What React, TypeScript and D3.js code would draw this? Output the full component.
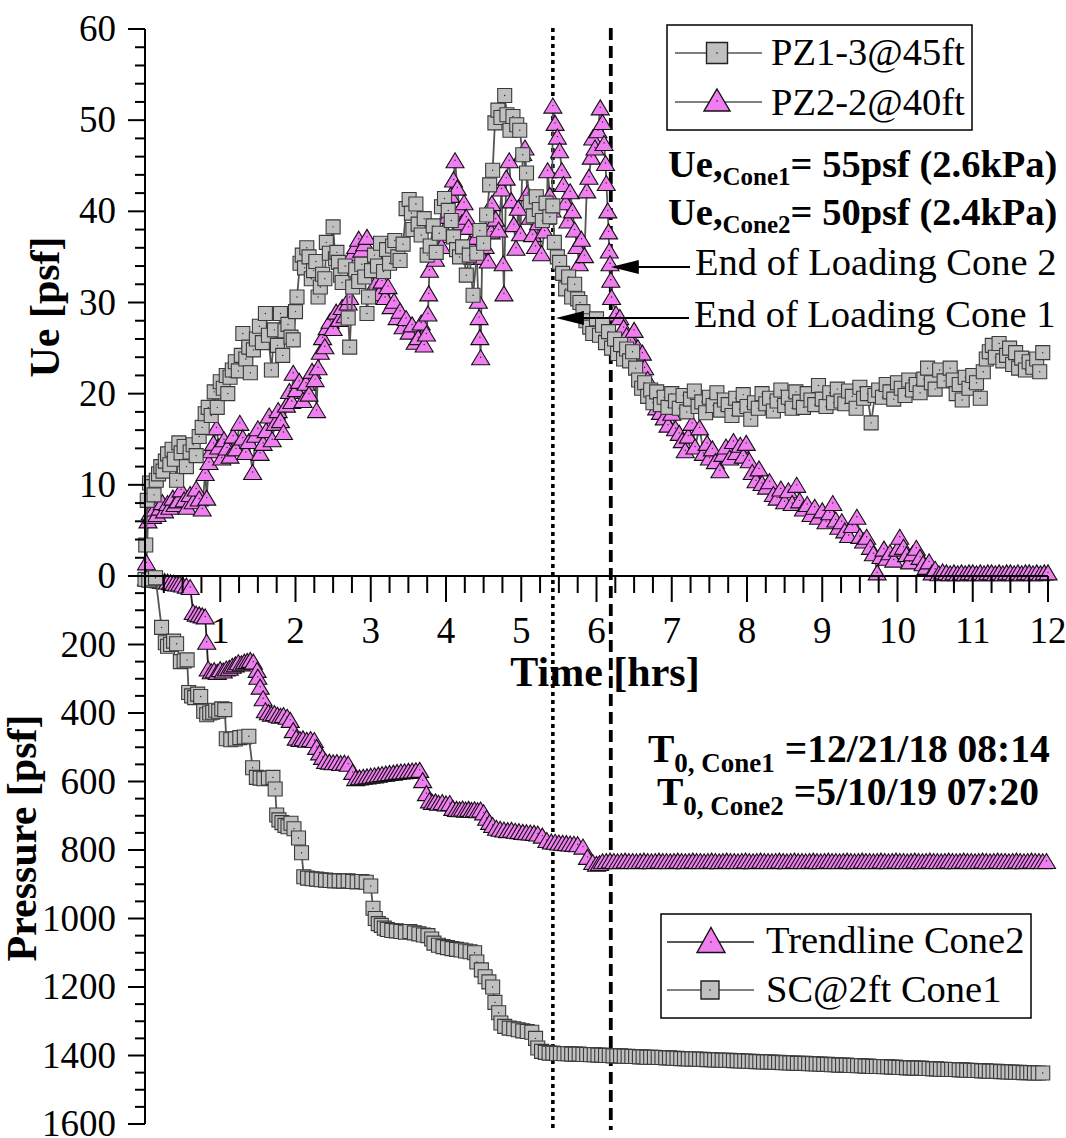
import React from 'react';
import * as d3 from 'd3';

// ---------- DATA ----------
// Top panel: excess pore pressure Ue [psf] vs time [hrs]
const pz13Series: [number, number][] = [
  [0.01,3.4],[0.03,8.3],[0.06,10.2],[0.09,9.8],[0.12,8.9],[0.15,10.5],[0.18,11.2],[0.21,12.0],[0.24,11.5],[0.27,12.6],
  [0.30,13.4],[0.33,12.2],[0.36,13.9],[0.39,12.8],[0.42,10.5],[0.45,14.6],[0.48,13.5],[0.52,14.2],[0.55,12.0],[0.60,13.6],
  [0.64,14.4],[0.68,13.2],[0.72,15.3],[0.76,16.3],[0.80,17.8],[0.84,18.5],[0.88,17.6],[0.92,20.2],[0.96,18.5],[1.00,21.3],
  [1.04,20.6],[1.08,22.0],[1.10,20.0],[1.13,21.8],[1.16,22.6],[1.20,23.5],[1.24,22.5],[1.28,24.2],[1.30,26.6],[1.34,23.8],
  [1.38,25.1],[1.40,22.3],[1.44,24.8],[1.48,26.0],[1.52,27.4],[1.56,25.6],[1.60,28.8],[1.64,26.4],[1.68,22.6],[1.72,27.0],
  [1.76,25.3],[1.80,28.8],[1.83,24.2],[1.86,26.9],[1.90,27.6],[1.94,26.2],[1.97,25.9],[2.00,29.0],[2.02,30.6],[2.06,34.3],
  [2.09,35.2],[2.12,33.8],[2.15,36.0],[2.18,35.0],[2.21,32.6],[2.24,33.5],[2.27,34.5],[2.30,30.6],[2.33,31.7],[2.36,33.1],
  [2.39,32.6],[2.41,36.6],[2.45,35.4],[2.50,38.3],[2.53,34.8],[2.55,35.5],[2.57,34.4],[2.60,33.0],[2.62,32.2],[2.66,34.0],
  [2.70,28.3],[2.72,25.1],[2.76,31.7],[2.80,33.6],[2.84,32.3],[2.88,34.2],[2.92,32.8],[2.95,28.8],[2.97,30.6],[3.01,33.5],
  [3.05,35.2],[3.09,34.0],[3.13,36.5],[3.17,33.4],[3.21,35.8],[3.25,34.3],[3.29,36.2],[3.32,36.8],[3.36,35.0],[3.39,34.6],
  [3.43,36.4],[3.47,40.3],[3.51,41.3],[3.54,39.8],[3.56,38.0],[3.60,40.8],[3.63,38.6],[3.67,37.4],[3.71,39.2],[3.75,35.2],
  [3.79,36.2],[3.83,38.4],[3.87,35.5],[3.91,37.6],[3.94,40.5],[3.98,41.4],[4.03,40.1],[4.07,39.0],[4.10,37.2],[4.14,35.8],
  [4.18,35.0],[4.22,36.1],[4.27,33.0],[4.31,35.2],[4.36,30.8],[4.41,35.4],[4.45,37.9],[4.50,36.5],[4.54,39.6],[4.58,42.9],
  [4.62,44.5],[4.65,49.7],[4.69,51.1],[4.73,50.3],[4.78,52.7],[4.81,50.6],[4.85,48.9],[4.89,50.4],[4.94,49.5],[4.98,48.9],
  [5.02,46.2],[5.07,44.2],[5.12,41.0],[5.16,39.5],[5.20,41.6],[5.24,40.2],[5.28,39.0],[5.33,40.9],[5.38,39.4],[5.42,40.6],
  [5.44,36.6],[5.48,35.0],[5.51,34.4],[5.55,33.2],[5.59,31.5],[5.63,32.8],[5.67,30.6],[5.71,32.0],[5.75,30.4],[5.78,30.0],
  [5.82,29.0],[5.86,28.0],[5.91,27.3],[5.95,26.6],[6.00,28.2],[6.04,26.4],[6.08,27.5],[6.12,25.6],[6.16,26.8],[6.20,25.0],
  [6.24,26.0],[6.28,24.4],[6.32,25.4],[6.36,23.8],[6.40,24.9],[6.44,23.6],[6.48,24.6],[6.52,22.8],[6.56,21.5],[6.60,20.6],
  [6.64,21.2],[6.68,19.7],[6.72,20.4],[6.75,19.0],[6.80,20.2],[6.85,18.8],[6.90,19.6],[6.95,18.5],[7.00,20.0],[7.05,19.2],
  [7.10,18.4],[7.15,19.8],[7.20,18.0],[7.25,19.4],[7.30,20.3],[7.35,18.6],[7.40,19.1],[7.45,17.9],[7.50,19.6],[7.55,18.7],
  [7.60,20.1],[7.65,18.2],[7.70,19.3],[7.75,18.8],[7.80,17.6],[7.85,19.5],[7.90,18.3],[7.95,19.9],[8.00,18.6],[8.05,17.2],
  [8.10,19.0],[8.15,18.4],[8.20,20.0],[8.25,18.9],[8.30,19.5],[8.35,18.1],[8.40,19.2],[8.45,20.4],[8.50,18.7],[8.55,19.6],
  [8.60,18.4],[8.65,20.2],[8.70,19.1],[8.75,18.5],[8.80,20.0],[8.85,19.3],[8.90,18.8],[8.95,20.9],[9.00,19.4],[9.05,18.6],
  [9.10,20.1],[9.15,19.0],[9.20,20.5],[9.25,19.2],[9.30,18.9],[9.35,20.3],[9.40,19.7],[9.45,18.4],[9.50,20.7],[9.55,19.5],
  [9.60,20.0],[9.65,16.8],[9.70,19.8],[9.75,20.4],[9.80,19.6],[9.85,21.0],[9.90,20.2],[9.95,19.4],[10.00,21.2],[10.05,20.6],
  [10.10,19.8],[10.15,21.5],[10.20,20.4],[10.25,21.0],[10.30,20.1],[10.35,21.6],[10.40,22.8],[10.45,21.2],[10.50,20.5],[10.56,22.6],
  [10.62,21.4],[10.70,22.8],[10.74,21.5],[10.78,20.0],[10.82,21.0],[10.86,19.3],[10.90,21.8],[10.95,20.6],[11.00,22.0],[11.05,21.2],
  [11.10,19.5],[11.14,22.4],[11.18,23.8],[11.22,24.6],[11.26,25.3],[11.30,24.0],[11.35,25.5],[11.40,23.6],[11.45,24.2],[11.49,25.0],
  [11.53,23.2],[11.57,24.5],[11.61,22.8],[11.65,23.9],[11.70,22.6],[11.75,23.5],[11.80,22.9],[11.85,23.8],[11.89,22.4],[11.93,24.5],
];

const pz22Series: [number, number][] = [
  [0.02,1.5],[0.04,6.1],[0.07,7.0],[0.10,6.6],[0.13,7.4],[0.16,6.8],[0.20,7.5],[0.23,8.1],[0.26,7.2],[0.30,8.0],
  [0.33,7.6],[0.37,8.6],[0.40,7.9],[0.44,8.3],[0.48,9.5],[0.52,8.4],[0.56,7.6],[0.60,9.0],[0.64,8.2],[0.68,9.6],
  [0.72,8.5],[0.76,7.4],[0.80,11.3],[0.82,8.6],[0.85,12.5],[0.88,13.8],[0.91,14.6],[0.95,16.3],[0.98,14.2],[1.02,13.0],
  [1.05,15.0],[1.09,14.1],[1.13,13.2],[1.17,15.4],[1.21,14.0],[1.26,16.8],[1.30,15.2],[1.34,13.6],[1.38,14.8],[1.43,11.4],
  [1.47,15.5],[1.50,16.2],[1.53,13.5],[1.57,14.6],[1.61,16.0],[1.65,17.6],[1.69,15.0],[1.73,16.8],[1.77,18.2],[1.80,17.1],
  [1.84,15.8],[1.88,18.8],[1.92,20.3],[1.95,19.2],[1.97,22.3],[2.01,20.5],[2.05,21.4],[2.10,19.3],[2.14,21.2],[2.18,20.0],
  [2.22,22.5],[2.26,21.6],[2.28,18.2],[2.30,22.9],[2.33,24.6],[2.36,26.2],[2.39,25.2],[2.42,27.3],[2.46,28.0],[2.50,27.2],
  [2.54,29.0],[2.58,28.2],[2.62,29.5],[2.66,28.6],[2.70,30.0],[2.72,30.6],[2.76,35.4],[2.80,36.2],[2.84,37.0],[2.88,35.8],
  [2.92,36.5],[2.95,37.2],[2.99,34.0],[3.03,33.5],[3.07,32.2],[3.11,31.0],[3.15,32.4],[3.19,30.6],[3.23,31.8],[3.27,29.6],
  [3.31,30.2],[3.35,28.4],[3.39,29.1],[3.43,27.4],[3.47,28.3],[3.51,26.8],[3.55,27.6],[3.59,25.7],[3.63,26.2],[3.67,27.8],
  [3.71,25.4],[3.74,26.6],[3.76,28.8],[3.77,31.0],[3.78,33.6],[3.82,36.0],[3.86,34.8],[3.90,37.4],[3.94,36.2],[3.98,38.0],
  [4.02,39.5],[4.06,41.8],[4.10,43.5],[4.12,45.6],[4.15,42.6],[4.18,40.2],[4.21,38.8],[4.24,41.0],[4.27,39.4],[4.30,38.3],
  [4.32,36.5],[4.36,35.0],[4.40,37.2],[4.43,30.2],[4.44,28.4],[4.45,26.2],[4.46,24.0],[4.48,35.0],[4.52,36.2],[4.56,34.6],
  [4.60,37.8],[4.61,40.9],[4.66,39.2],[4.70,38.0],[4.74,42.5],[4.76,34.3],[4.77,31.0],[4.80,43.7],[4.84,45.6],[4.87,41.2],
  [4.90,38.6],[4.93,36.0],[4.96,40.4],[4.99,37.6],[5.02,46.4],[5.05,47.0],[5.08,42.0],[5.12,39.4],[5.15,37.5],[5.19,36.2],
  [5.23,38.8],[5.27,35.4],[5.31,37.9],[5.34,39.4],[5.35,44.5],[5.38,41.8],[5.41,40.2],[5.42,51.6],[5.45,49.7],[5.48,48.2],
  [5.51,46.7],[5.54,44.5],[5.56,43.0],[5.59,41.0],[5.62,39.0],[5.65,42.2],[5.68,40.1],[5.71,38.0],[5.74,36.2],[5.77,34.3],
  [5.80,37.0],[5.84,35.2],[5.87,42.3],[5.90,43.8],[5.93,46.0],[5.95,48.1],[5.98,47.0],[6.02,48.9],[6.05,51.4],[6.08,49.8],
  [6.10,47.5],[6.12,45.3],[6.13,43.1],[6.15,40.1],[6.16,37.8],[6.17,35.7],[6.18,34.3],[6.19,32.5],[6.20,30.6],[6.26,28.8],
  [6.31,28.4],[6.36,27.3],[6.40,26.4],[6.45,25.9],[6.50,27.0],[6.55,25.1],[6.61,24.5],[6.64,22.9],[6.68,21.6],[6.72,20.4],
  [6.76,19.8],[6.80,18.5],[6.85,18.0],[6.90,17.4],[6.95,16.6],[7.00,17.9],[7.05,16.2],[7.10,15.7],[7.14,14.9],[7.18,13.8],
  [7.22,15.4],[7.27,16.8],[7.31,14.2],[7.37,16.3],[7.42,13.5],[7.47,14.6],[7.50,13.0],[7.54,14.0],[7.58,12.6],[7.64,11.6],
  [7.68,13.4],[7.72,14.2],[7.77,13.0],[7.82,14.8],[7.86,13.6],[7.91,14.4],[7.95,13.2],[7.99,14.6],[8.03,12.7],[8.07,11.4],
  [8.12,10.5],[8.16,11.8],[8.20,10.2],[8.26,9.8],[8.30,10.4],[8.35,9.0],[8.40,8.6],[8.45,9.6],[8.50,8.2],[8.55,9.4],
  [8.60,8.0],[8.66,10.0],[8.70,8.3],[8.75,7.4],[8.80,7.9],[8.85,6.8],[8.90,7.6],[8.95,6.5],[9.00,7.2],[9.05,6.0],
  [9.10,7.0],[9.14,8.0],[9.18,6.2],[9.22,5.4],[9.26,6.0],[9.30,5.0],[9.35,4.5],[9.40,5.6],[9.46,6.5],[9.50,4.4],
  [9.55,3.9],[9.59,4.3],[9.64,3.2],[9.68,2.5],[9.73,0.4],[9.78,2.2],[9.82,3.0],[9.86,2.0],[9.90,2.6],[9.95,1.8],
  [10.00,3.0],[10.03,4.3],[10.08,3.2],[10.12,2.4],[10.16,1.6],[10.20,2.5],[10.25,3.1],[10.30,2.1],[10.34,1.4],[10.38,1.0],
  [10.42,1.6],[10.46,0.4],[10.50,0.8],[10.55,0.3],[10.60,0.5],[10.65,0.4],[10.70,0.3],[10.75,0.4],[10.80,0.3],[10.85,0.4],
  [10.90,0.3],[10.95,0.4],[11.00,0.4],[11.05,0.3],[11.10,0.4],[11.15,0.3],[11.20,0.4],[11.25,0.4],[11.30,0.3],[11.35,0.4],
  [11.40,0.3],[11.45,0.4],[11.50,0.4],[11.55,0.3],[11.60,0.4],[11.65,0.3],[11.70,0.4],[11.75,0.4],[11.80,0.3],[11.85,0.4],
  [11.90,0.3],[11.95,0.4],[12.00,0.4],
];

// Bottom panel: applied pressure [psf] vs time [hrs]
const trendCone2Series: [number, number][] = [
  [0.02,5],[0.06,8],[0.10,6],[0.14,10],[0.18,12],[0.22,14],[0.26,15],[0.30,16],[0.34,18],[0.38,20],
  [0.42,22],[0.46,22],[0.50,25],[0.55,28],[0.60,32],[0.64,105],[0.68,110],[0.72,112],[0.76,115],[0.80,118],
  [0.82,192],[0.84,270],[0.88,278],[0.92,275],[0.96,280],[1.00,272],[1.04,276],[1.08,270],[1.12,268],[1.16,262],
  [1.20,258],[1.24,252],[1.28,255],[1.32,250],[1.36,248],[1.40,245],[1.44,250],[1.49,274],[1.50,294],[1.53,323],
  [1.57,357],[1.60,392],[1.64,398],[1.68,402],[1.72,400],[1.76,405],[1.80,408],[1.84,406],[1.89,411],[1.93,420],
  [1.97,450],[2.01,472],[2.06,476],[2.10,474],[2.15,478],[2.20,476],[2.25,479],[2.28,499],[2.32,515],[2.36,528],
  [2.40,540],[2.45,542],[2.50,544],[2.55,543],[2.60,546],[2.65,545],[2.70,548],[2.76,572],[2.80,590],[2.85,588],
  [2.90,586],[2.95,585],[3.00,583],[3.05,582],[3.10,580],[3.15,578],[3.20,577],[3.25,575],[3.30,574],[3.35,572],
  [3.40,571],[3.45,570],[3.50,569],[3.55,568],[3.60,567],[3.65,566],[3.69,596],[3.74,634],[3.78,655],[3.82,660],
  [3.86,658],[3.90,662],[3.95,660],[4.00,664],[4.05,663],[4.09,677],[4.14,680],[4.18,681],[4.22,679],[4.26,682],
  [4.30,680],[4.34,683],[4.38,681],[4.42,684],[4.46,682],[4.50,690],[4.54,706],[4.58,718],[4.62,727],[4.67,735],
  [4.72,738],[4.77,740],[4.82,742],[4.87,741],[4.92,744],[4.97,745],[5.02,747],[5.07,748],[5.12,749],[5.17,750],
  [5.22,752],[5.28,758],[5.34,771],[5.40,775],[5.45,776],[5.50,778],[5.55,779],[5.60,780],[5.65,781],[5.70,782],
  [5.75,783],[5.82,790],[5.88,820],[5.95,835],[6.00,840],[6.04,838],[6.08,833],[6.13,832],[6.18,831],[6.23,832],
  [6.28,833],[6.33,832],[6.38,831],[6.43,832],[6.48,832],[6.53,833],[6.58,832],[6.63,831],[6.68,832],[6.73,833],
  [6.78,832],[6.83,831],[6.88,832],[6.93,832],[6.98,833],[7.03,832],[7.08,831],[7.13,832],[7.18,833],[7.23,832],
  [7.28,831],[7.33,832],[7.38,832],[7.43,833],[7.48,832],[7.53,831],[7.58,832],[7.63,833],[7.68,832],[7.73,831],
  [7.78,832],[7.83,832],[7.88,833],[7.93,832],[7.98,831],[8.03,832],[8.08,833],[8.13,832],[8.18,831],[8.23,832],
  [8.28,832],[8.33,833],[8.38,832],[8.43,831],[8.48,832],[8.53,833],[8.58,832],[8.63,831],[8.68,832],[8.73,832],
  [8.78,833],[8.83,832],[8.88,831],[8.93,832],[8.98,833],[9.03,832],[9.08,831],[9.13,832],[9.18,832],[9.23,833],
  [9.28,832],[9.33,831],[9.38,832],[9.43,833],[9.48,832],[9.53,831],[9.58,832],[9.63,832],[9.68,833],[9.73,832],
  [9.78,831],[9.83,832],[9.88,833],[9.93,832],[9.98,831],[10.03,832],[10.08,832],[10.13,833],[10.18,832],[10.23,831],
  [10.28,832],[10.33,833],[10.38,832],[10.43,831],[10.48,832],[10.53,832],[10.58,833],[10.63,832],[10.68,831],[10.73,832],
  [10.78,833],[10.83,832],[10.88,831],[10.93,832],[10.98,832],[11.03,833],[11.08,832],[11.13,831],[11.18,832],[11.23,833],
  [11.28,832],[11.33,831],[11.38,832],[11.43,832],[11.48,833],[11.53,832],[11.58,831],[11.63,832],[11.68,833],[11.73,832],
  [11.78,831],[11.83,832],[11.88,832],[11.93,833],[11.98,832],
];

const scCone1Series: [number, number][] = [
  [0.00,10],[0.05,12],[0.10,8],[0.14,5],[0.22,150],[0.27,195],[0.30,205],[0.34,200],[0.38,190],[0.42,198],
  [0.47,250],[0.52,248],[0.56,245],[0.58,340],[0.62,350],[0.66,355],[0.70,345],[0.74,352],[0.78,395],[0.82,405],
  [0.86,400],[0.90,398],[0.94,392],[0.98,395],[1.02,388],[1.06,390],[1.08,475],[1.14,478],[1.20,476],[1.26,472],
  [1.32,470],[1.38,468],[1.43,560],[1.48,588],[1.53,590],[1.58,592],[1.64,590],[1.70,588],[1.73,622],[1.75,698],
  [1.78,712],[1.82,720],[1.86,728],[1.90,732],[1.94,722],[1.98,738],[2.04,765],[2.08,808],[2.11,878],[2.16,882],
  [2.22,884],[2.28,885],[2.34,887],[2.40,888],[2.46,889],[2.52,890],[2.58,890],[2.64,891],[2.70,890],[2.76,892],
  [2.82,893],[2.88,892],[2.94,894],[3.00,905],[3.03,970],[3.06,1000],[3.10,1015],[3.14,1020],[3.18,1028],[3.22,1032],
  [3.28,1035],[3.34,1036],[3.40,1038],[3.46,1040],[3.52,1038],[3.58,1042],[3.64,1045],[3.70,1048],[3.76,1050],[3.81,1060],
  [3.84,1072],[3.90,1078],[3.96,1082],[4.02,1085],[4.08,1088],[4.14,1090],[4.20,1092],[4.26,1095],[4.32,1097],[4.38,1100],
  [4.41,1127],[4.47,1150],[4.52,1170],[4.57,1185],[4.62,1200],[4.65,1245],[4.70,1275],[4.73,1305],[4.78,1315],[4.84,1320],
  [4.90,1322],[4.96,1325],[5.02,1328],[5.08,1330],[5.14,1332],[5.19,1350],[5.22,1378],[5.27,1388],[5.32,1391],[5.37,1393],
  [5.42,1393],[5.47,1394],[5.52,1394],[5.57,1395],[5.62,1395],[5.67,1396],[5.72,1396],[5.77,1396],[5.82,1397],[5.87,1397],
  [5.92,1398],[5.97,1398],[6.02,1399],[6.07,1399],[6.12,1400],[6.17,1400],[6.22,1401],[6.27,1401],[6.32,1401],[6.37,1402],
  [6.42,1402],[6.47,1403],[6.52,1403],[6.57,1404],[6.62,1404],[6.67,1405],[6.72,1405],[6.77,1405],[6.82,1406],[6.87,1406],
  [6.92,1407],[6.97,1407],[7.02,1408],[7.07,1408],[7.12,1409],[7.17,1409],[7.22,1410],[7.27,1410],[7.32,1410],[7.37,1411],
  [7.42,1411],[7.47,1412],[7.52,1412],[7.57,1413],[7.62,1413],[7.67,1414],[7.72,1414],[7.77,1414],[7.82,1415],[7.87,1415],
  [7.92,1416],[7.97,1416],[8.02,1417],[8.07,1417],[8.12,1418],[8.17,1418],[8.22,1419],[8.27,1419],[8.32,1419],[8.37,1420],
  [8.42,1420],[8.47,1421],[8.52,1421],[8.57,1422],[8.62,1422],[8.67,1423],[8.72,1423],[8.77,1423],[8.82,1424],[8.87,1424],
  [8.92,1425],[8.97,1425],[9.02,1426],[9.07,1426],[9.12,1427],[9.17,1427],[9.22,1428],[9.27,1428],[9.32,1428],[9.37,1429],
  [9.42,1429],[9.47,1430],[9.52,1430],[9.57,1431],[9.62,1431],[9.67,1432],[9.72,1432],[9.77,1432],[9.82,1433],[9.87,1433],
  [9.92,1434],[9.97,1434],[10.02,1435],[10.07,1435],[10.12,1436],[10.17,1436],[10.22,1437],[10.27,1437],[10.32,1437],[10.37,1438],
  [10.42,1438],[10.47,1439],[10.52,1439],[10.57,1440],[10.62,1440],[10.67,1441],[10.72,1441],[10.77,1441],[10.82,1442],[10.87,1442],
  [10.92,1443],[10.97,1443],[11.02,1444],[11.07,1444],[11.12,1445],[11.17,1445],[11.22,1446],[11.27,1446],[11.32,1446],[11.37,1447],
  [11.42,1447],[11.47,1448],[11.52,1448],[11.57,1449],[11.62,1449],[11.67,1450],[11.72,1450],[11.77,1450],[11.82,1451],[11.87,1451],
  [11.93,1451],
];

const xTickValues = [1, 2, 3, 4, 5, 6, 7, 8, 9, 10, 11, 12];
const topYTickValues = [0, 10, 20, 30, 40, 50, 60];
const botYTickValues = [200, 400, 600, 800, 1000, 1200, 1400, 1600];
const endLoadingCone1 = 5.42;
const endLoadingCone2 = 6.19;

// ---------- STYLE ----------
const FONT = "'Liberation Serif','Times New Roman',Times,serif";
const PINK = '#F07EF0';
const GRAY = '#C0C0C0';

const W = 1066;
const H = 1138;

const x = d3.scaleLinear().domain([0, 12]).range([145, 1048]);
const yTop = d3.scaleLinear().domain([0, 60]).range([576, 29]);
const yBot = d3.scaleLinear().domain([0, 1600]).range([576, 1124]);

const sq = (s: number) => `M${-s / 2},${-s / 2}H${s / 2}V${s / 2}H${-s / 2}Z`;
const tri = (w: number, h: number) => `M0,${-h / 2}L${w / 2},${h / 2}L${-w / 2},${h / 2}Z`;

function Series({ data, ys, kind, lineColor }: { data: [number, number][]; ys: d3.ScaleLinear<number, number>; kind: 'sq' | 'tri'; lineColor: string }) {
  const line = d3.line<[number, number]>().x((d) => x(d[0])).y((d) => ys(d[1]));
  const path = kind === 'sq' ? sq(14) : tri(18, 15);
  return (
    <g>
      <path d={line(data) || ''} fill="none" stroke={lineColor} strokeWidth={1.8} />
      {data.map((d, i) => (
        <g key={i} transform={`translate(${x(d[0])},${ys(d[1])})`}>
          <path d={path} fill={kind === 'sq' ? GRAY : PINK} stroke={kind === 'sq' ? '#3a3a3a' : '#111'} strokeWidth={1.1} />
          <circle r={0.7} fill="#222" />
        </g>
      ))}
    </g>
  );
}

export default function App() {
  const xMinor = d3.range(0, 48.5).map((i) => i * 0.25);
  const topMinor = d3.range(0, 31).map((i) => i * 2);
  const botMinor = d3.range(0, 33).map((i) => i * 50);
  const axisX = 145;
  const axisY = 576;

  return (
    <svg width={W} height={H} style={{ position: 'absolute', left: 0, top: 0, background: '#fff' }} fontFamily={FONT}>
      <rect width={W} height={H} fill="#fff" />

      {/* vertical lines: end of loading */}
      <line x1={x(endLoadingCone1)} x2={x(endLoadingCone1)} y1={28} y2={1130} stroke="#000" strokeWidth={3.6} strokeDasharray="4 4" />
      <line x1={x(endLoadingCone2)} x2={x(endLoadingCone2)} y1={28} y2={1130} stroke="#000" strokeWidth={3.8} strokeDasharray="12 6" />

      {/* data */}
      <Series data={pz22Series} ys={yTop} kind="tri" lineColor="#555" />
      <Series data={pz13Series} ys={yTop} kind="sq" lineColor="#555" />
      <Series data={trendCone2Series} ys={yBot} kind="tri" lineColor="#222" />
      <Series data={scCone1Series} ys={yBot} kind="sq" lineColor="#555" />

      {/* axes */}
      <line x1={axisX} x2={axisX} y1={yTop(60)} y2={yBot(1600)} stroke="#000" strokeWidth={2} />
      <line x1={axisX} x2={x(12)} y1={axisY} y2={axisY} stroke="#000" strokeWidth={2} />
      {xMinor.map((t, i) => {
        const major = Math.abs(t - Math.round(t)) < 1e-6;
        return <line key={i} x1={x(t)} x2={x(t)} y1={axisY} y2={axisY + (major ? 26 : 17)} stroke="#000" strokeWidth={2} />;
      })}
      {topMinor.map((v, i) => (
        <line key={i} x1={axisX - (v % 10 === 0 ? 17 : 10)} x2={axisX} y1={yTop(v)} y2={yTop(v)} stroke="#000" strokeWidth={2} />
      ))}
      {botMinor.map((v, i) => (
        <line key={i} x1={axisX - (v % 200 === 0 ? 17 : 10)} x2={axisX} y1={yBot(v)} y2={yBot(v)} stroke="#000" strokeWidth={2} />
      ))}
      {xTickValues.map((t) => (
        <text key={t} x={x(t)} y={643} fontSize={37} textAnchor="middle">{t}</text>
      ))}
      {topYTickValues.map((v) => (
        <text key={v} x={116} y={yTop(v) + 12} fontSize={37} textAnchor="end">{v}</text>
      ))}
      {botYTickValues.map((v) => (
        <text key={v} x={116} y={yBot(v) + 12} fontSize={37} textAnchor="end">{v}</text>
      ))}

      {/* axis titles */}
      <text transform="translate(59,307) rotate(-90)" fontSize={42} fontWeight="bold" textAnchor="middle">Ue [psf]</text>
      <text transform="translate(36,838) rotate(-90)" fontSize={42} fontWeight="bold" textAnchor="middle">Pressure [psf]</text>
      <text x={605} y={686} fontSize={42} fontWeight="bold" textAnchor="middle">Time [hrs]</text>

      {/* top legend */}
      <rect x={667} y={25} width={305} height={105} fill="#fff" stroke="#000" strokeWidth={1.5} />
      <line x1={675} x2={762} y1={53} y2={53} stroke="#555" strokeWidth={1.6} />
      <path d={sq(21)} transform="translate(717,53)" fill={GRAY} stroke="#222" strokeWidth={1.4} />
      <circle cx={717} cy={53} r={0.8} fill="#222" />
      <text x={771} y={65} fontSize={38.5}>PZ1-3@45ft</text>
      <line x1={675} x2={762} y1={102} y2={102} stroke="#555" strokeWidth={1.6} />
      <path d={tri(26, 22)} transform="translate(717,100)" fill={PINK} stroke="#111" strokeWidth={1.4} />
      <circle cx={717} cy={101} r={0.8} fill="#222" />
      <text x={771} y={115} fontSize={38.5}>PZ2-2@40ft</text>

      {/* Ue annotations */}
      <text x={668} y={177} fontSize={38.5} fontWeight="bold">
        <tspan>Ue,</tspan>
        <tspan fontSize={25} dy={8}>Cone1</tspan>
        <tspan dy={-8}>= 55psf (2.6kPa)</tspan>
      </text>
      <text x={668} y={225} fontSize={38.5} fontWeight="bold">
        <tspan>Ue,</tspan>
        <tspan fontSize={25} dy={8}>Cone2</tspan>
        <tspan dy={-8}>= 50psf (2.4kPa)</tspan>
      </text>

      {/* arrows */}
      <line x1={690} x2={x(endLoadingCone2) + 20} y1={267} y2={267} stroke="#000" strokeWidth={1.8} />
      <path d={`M${x(endLoadingCone2)},267L${x(endLoadingCone2) + 28},260L${x(endLoadingCone2) + 28},274Z`} fill="#000" />
      <text x={695} y={275} fontSize={38.5}>End of Loading Cone 2</text>
      <line x1={689} x2={x(endLoadingCone1) + 20} y1={318} y2={318} stroke="#000" strokeWidth={1.8} />
      <path d={`M${x(endLoadingCone1) + 3},318L${x(endLoadingCone1) + 31},311L${x(endLoadingCone1) + 31},325Z`} fill="#000" />
      <text x={694} y={327} fontSize={38.5}>End of Loading Cone 1</text>

      {/* T0 annotations */}
      <text x={648} y={762} fontSize={39.5} fontWeight="bold">
        <tspan>T</tspan>
        <tspan fontSize={27} dy={10}>0, Cone1</tspan>
        <tspan dy={-10}> =12/21/18 08:14</tspan>
      </text>
      <text x={657} y={805} fontSize={39.5} fontWeight="bold">
        <tspan>T</tspan>
        <tspan fontSize={27} dy={10}>0, Cone2</tspan>
        <tspan dy={-10}> =5/10/19 07:20</tspan>
      </text>

      {/* bottom legend */}
      <rect x={661} y={914} width={370} height={104} fill="#fff" stroke="#000" strokeWidth={1.5} />
      <line x1={667} x2={754} y1={942} y2={942} stroke="#222" strokeWidth={1.6} />
      <path d={tri(28, 25)} transform="translate(711,940)" fill={PINK} stroke="#111" strokeWidth={1.4} />
      <circle cx={711} cy={942} r={0.8} fill="#222" />
      <text x={766} y={953} fontSize={38.5}>Trendline Cone2</text>
      <line x1={667} x2={754} y1={990} y2={990} stroke="#555" strokeWidth={1.6} />
      <path d={sq(18)} transform="translate(710,990)" fill={GRAY} stroke="#222" strokeWidth={1.4} />
      <circle cx={710} cy={990} r={0.8} fill="#222" />
      <text x={766} y={1002} fontSize={38.5}>SC@2ft Cone1</text>
    </svg>
  );
}
